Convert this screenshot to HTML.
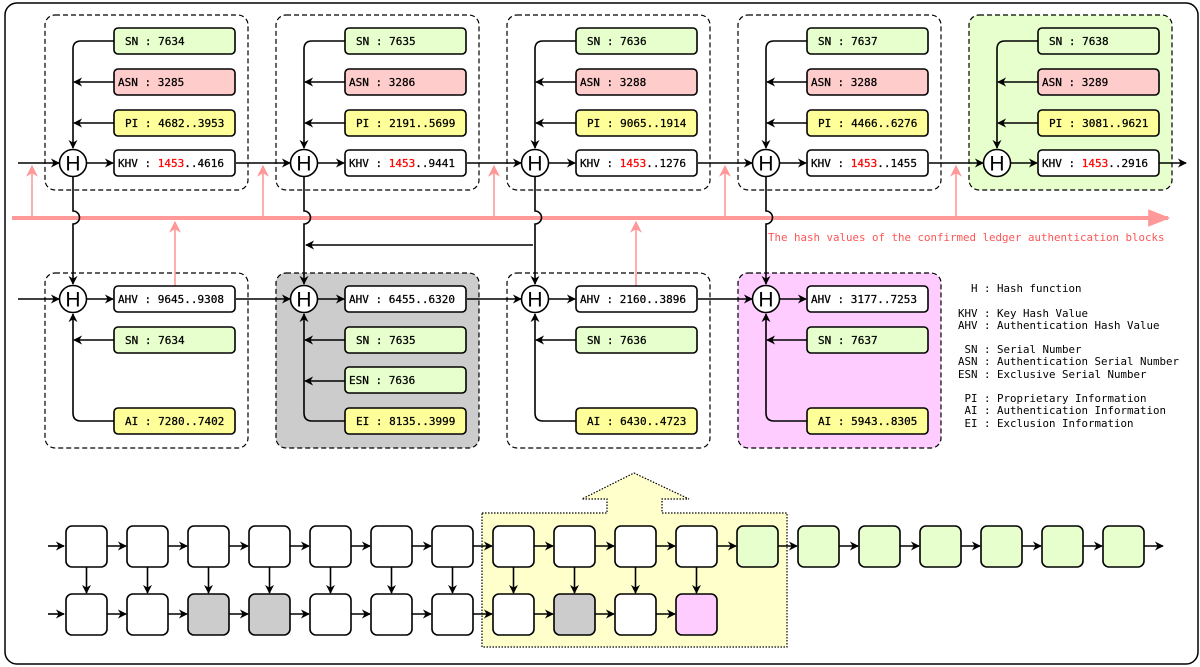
<!DOCTYPE html>
<html><head><meta charset="utf-8"><style>
html,body{margin:0;padding:0;background:#fff;width:1200px;height:667px;overflow:hidden}
svg text{font-family:"DejaVu Sans Mono","Liberation Mono",monospace}
</style></head><body>
<svg id="s" width="1200" height="667" viewBox="0 0 1200 667" xmlns="http://www.w3.org/2000/svg">
<defs>
<marker id="a" viewBox="0 0 10 10" refX="9" refY="5" markerWidth="9" markerHeight="9" orient="auto" markerUnits="userSpaceOnUse"><path d="M0,0 L10,5 L0,10 L3,5z" fill="#000"/></marker>
<marker id="p" viewBox="0 0 10 10" refX="9" refY="5" markerWidth="12" markerHeight="12" orient="auto" markerUnits="userSpaceOnUse"><path d="M0,0 L10,5 L0,10 L3,5z" fill="#ff9999"/></marker>
<marker id="P" viewBox="0 0 10 10" refX="9" refY="5" markerWidth="22" markerHeight="22" orient="auto" markerUnits="userSpaceOnUse"><path d="M0,1 L10,5 L0,9 z" fill="#ff9999"/></marker>
</defs>
<rect x="5" y="3" width="1193" height="661" rx="12" fill="#fff" stroke="#000" stroke-width="1.5"/>
<g id="g"></g>
<g font-size="10.8" fill="#000">
<text x="971" y="292" xml:space="preserve">H : Hash function</text>
<text x="958" y="317" xml:space="preserve">KHV : Key Hash Value</text>
<text x="958" y="329" xml:space="preserve">AHV : Authentication Hash Value</text>
<text x="958" y="353" xml:space="preserve"> SN : Serial Number</text>
<text x="958" y="365" xml:space="preserve">ASN : Authentication Serial Number</text>
<text x="958" y="378" xml:space="preserve">ESN : Exclusive Serial Number</text>
<text x="958" y="402" xml:space="preserve"> PI : Proprietary Information</text>
<text x="958" y="414" xml:space="preserve"> AI : Authentication Information</text>
<text x="958" y="427" xml:space="preserve"> EI : Exclusion Information</text>
</g>
<text x="768" y="241" font-size="10.8" fill="#ff5555">The hash values of the confirmed ledger authentication blocks</text>
</svg>
<script>
(function(){
var g=document.getElementById('g'),h='',hs='';
function L(x1,y1,x2,y2,m,c,w){h+='<line x1="'+x1+'" y1="'+y1+'" x2="'+x2+'" y2="'+y2+'" stroke="'+(c||'#000')+'" stroke-width="'+(w||1.6)+'"'+(m?' marker-end="url(#'+m+')"':'')+'/>';}
function R(x,y,w,hh,f,r){h+='<rect x="'+x+'" y="'+y+'" width="'+w+'" height="'+hh+'" rx="'+(r||4)+'" fill="'+f+'" stroke="#000" stroke-width="1.6"/>';}
function T(x,y,s){h+='<text x="'+x+'" y="'+y+'" font-size="11" fill="#000" stroke="#000" stroke-width="0.25" xml:space="preserve">'+s+'</text>';}
function H(cx,cy){hs+='<circle cx="'+cx+'" cy="'+cy+'" r="13.5" fill="#fff" stroke="#000" stroke-width="1.6"/><text x="'+cx+'" y="'+(cy+7.5)+'" font-size="21" text-anchor="middle" style="font-family:\'Liberation Sans\',sans-serif">H</text>';}
var topD=[["SN : 7634","ASN : 3285","PI : 4682..3953","4616"],["SN : 7635","ASN : 3286","PI : 2191..5699","9441"],["SN : 7636","ASN : 3288","PI : 9065..1914","1276"],["SN : 7637","ASN : 3288","PI : 4466..6276","1455"],["SN : 7638","ASN : 3289","PI : 3081..9621","2916"]];
var bot=[["AHV : 9645..9308","SN : 7634",null,"AI : 7280..7402","none"],["AHV : 6455..6320","SN : 7635","ESN : 7636","EI : 8135..3999","#cccccc"],["AHV : 2160..3896","SN : 7636",null,"AI : 6430..4723","none"],["AHV : 3177..7253","SN : 7637",null,"AI : 5943..8305","#ffccff"]];
var i,bx,cx,d;
for(i=0;i<5;i++){bx=45+i*231;
 h+='<rect x="'+bx+'" y="15" width="203" height="175" rx="10" fill="'+(i==4?'#e6ffcc':'none')+'" stroke="#000" stroke-width="1.2" stroke-dasharray="5,3"/>';}
for(i=0;i<4;i++){bx=45+i*231;
 h+='<rect x="'+bx+'" y="273" width="203" height="175" rx="10" fill="'+bot[i][4]+'" stroke="#000" stroke-width="1.2" stroke-dasharray="5,3"/>';}
L(12,218,1168,218,'P','#ff9999',4);
for(i=0;i<5;i++){L(32+i*231,218,32+i*231,166,'p','#ff9999',1.6);}
L(175,286,175,222,'p','#ff9999',1.6);L(636,286,636,222,'p','#ff9999',1.6);
for(i=0;i<5;i++){bx=45+i*231;cx=bx+28;d=topD[i];
 h+='<path d="M'+(bx+69)+',41 H'+(cx+8)+' Q'+cx+',41 '+cx+',49 V148" fill="none" stroke="#000" stroke-width="1.6" marker-end="url(#a)"/>';
 L(bx+69,82,cx+1,82,'a');L(bx+69,123,cx+1,123,'a');
 L(i==0?18:bx-40,163,cx-14,163,'a');
 L(cx+14,163,bx+68,163,'a');
 R(bx+69,28,121,26,'#e6ffcc');R(bx+69,69,121,26,'#ffcccc');R(bx+69,110,121,26,'#ffff99');R(bx+69,150,121,26,'#fff');
 T(bx+80,45,d[0]);T(bx+73,86,d[1]);T(bx+80,127,d[2]);
 h+='<text x="'+(bx+73)+'" y="167" font-size="11" stroke="#000" stroke-width="0.25" xml:space="preserve">KHV : <tspan fill="#ff0000" stroke="#ff0000">1453</tspan>..'+d[3]+'</text>';
 if(i==4)L(bx+190,163,bx+217,163,'a');
 if(i<4){h+='<path d="M'+cx+',177 V211 A6,6 0 0 1 '+cx+',224 V284" fill="none" stroke="#000" stroke-width="1.6" marker-end="url(#a)"/>';}
 H(cx,163);
}
L(533,245,306,245,'a');
for(i=0;i<4;i++){bx=45+i*231;cx=bx+28;d=bot[i];
 L(i==0?18:bx-40,299,cx-14,299,'a');
 L(cx+14,299,bx+68,299,'a');
 h+='<path d="M'+(bx+69)+',421 H'+(cx+8)+' Q'+cx+',421 '+cx+',413 V314" fill="none" stroke="#000" stroke-width="1.6" marker-end="url(#a)"/>';
 L(bx+69,340,cx+1,340,'a');
 if(d[2])L(bx+69,381,cx+1,381,'a');
 R(bx+69,286,121,26,'#fff');R(bx+69,327,121,26,'#e6ffcc');if(d[2])R(bx+69,367,121,26,'#e6ffcc');R(bx+69,408,121,26,'#ffff99');
 T(bx+73,303,d[0]);T(bx+80,344,d[1]);if(d[2])T(bx+73,384,d[2]);T(bx+80,425,d[3]);
 H(cx,299);
}
h+='<path d="M482,513 H607 V499 H582 L634,473 L689,499 H662 V513 H787 V647 H482 Z" fill="#ffffcc" stroke="#000" stroke-width="1.2" stroke-dasharray="1.5,1.5"/>';
var bc=["#fff","#fff","#ccc","#ccc","#fff","#fff","#fff","#fff","#ccc","#fff","#ffccff"];
L(48,546,64,546,'a');L(48,614,64,614,'a');
for(var k=0;k<18;k++){var x=66+k*61;
 L(x+41,546,x+60,546,'a');
 R(x,526,41,41,k<11?'#fff':'#e6ffcc',6);
 if(k<11){L(x+20.5,567,x+20.5,593,'a');if(k<10)L(x+41,614,x+60,614,'a');R(x,594,41,41,bc[k],6);}
}
g.innerHTML=h+hs;
})();
</script>
</body></html>
